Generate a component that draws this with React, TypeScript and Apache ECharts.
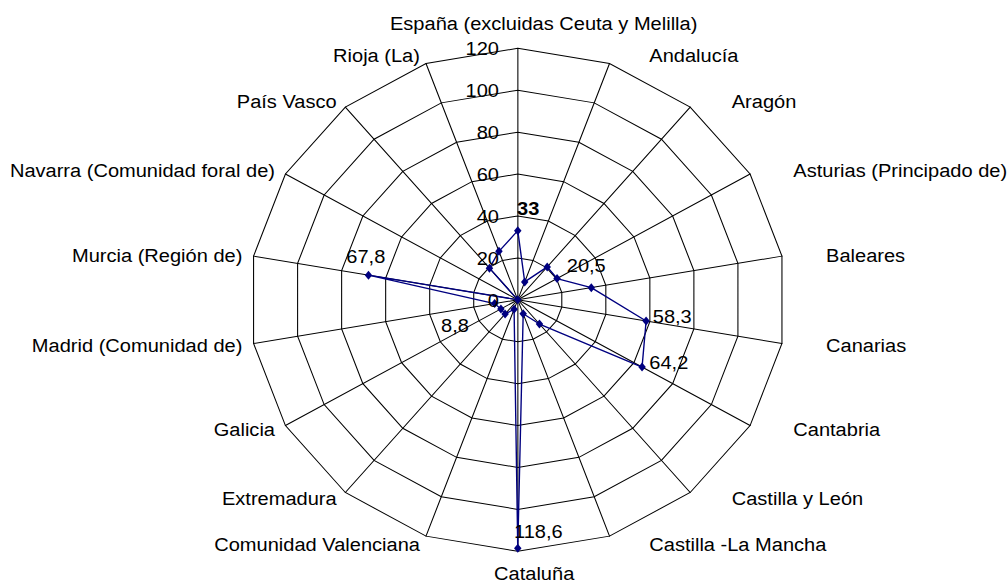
import React, { useEffect, useRef } from "react";
import * as echarts from "echarts";

// Regions, clockwise from the top spoke
const categories = [
  "España (excluidas Ceuta y Melilla)",
  "Andalucía",
  "Aragón",
  "Asturias (Principado de)",
  "Baleares",
  "Canarias",
  "Cantabria",
  "Castilla y León",
  "Castilla -La Mancha",
  "Cataluña",
  "Comunidad Valenciana",
  "Extremadura",
  "Galicia",
  "Madrid (Comunidad de)",
  "Murcia (Región de)",
  "Navarra (Comunidad foral de)",
  "País Vasco",
  "Rioja (La)",
];

const values = [
  33, 9.1, 20.5, 20.3, 33.4, 58.3, 64.2, 15.1, 7.1, 118.6, 4.8, 8.8, 8.7, 10.5,
  67.8, 0, 19.7, 24.6,
];

// Radial scale ticks
const radialTicks = [0, 20, 40, 60, 80, 100, 120];

// Regions whose value is printed next to the marker
const labelledCategories = [
  "España (excluidas Ceuta y Melilla)",
  "Aragón",
  "Canarias",
  "Cantabria",
  "Cataluña",
  "Extremadura",
  "Murcia (Región de)",
];

// ---- layout (not data) ----
const FONT = '"Liberation Sans", Arial, Helvetica, sans-serif';
const FONT_SIZE = 18.8;
const STRETCH = 1008 / 945;
const CX = 485.4;
const CY = 299.8;
const R = 251.5;

// where each value label sits relative to its marker
const valueLabelOffsets: Record<string, { offset: [number, number]; bold?: boolean }> = {
  "España (excluidas Ceuta y Melilla)": { offset: [9.8, -22.3], bold: true },
  "Aragón": { offset: [36.6, -1.2] },
  "Canarias": { offset: [24.5, -4.3] },
  "Cantabria": { offset: [25.1, -4.4] },
  "Cataluña": { offset: [19.3, -17.4] },
  "Extremadura": { offset: [-47, 11.6] },
  "Murcia (Región de)": { offset: [-2.5, -18.4] },
};

// anchor of each category name around the web
const nameAnchors: { x: number; y: number; align: "left" | "right" | "center" }[] = [
  { x: 365.6, y: 23.5, align: "left" },
  { x: 608.7, y: 55, align: "left" },
  { x: 686.0, y: 101.7, align: "left" },
  { x: 743.7, y: 170.5, align: "left" },
  { x: 774.4, y: 254.8, align: "left" },
  { x: 774.4, y: 345, align: "left" },
  { x: 743.7, y: 429.3, align: "left" },
  { x: 686.0, y: 498.3, align: "left" },
  { x: 608.7, y: 544.6, align: "left" },
  { x: 500.8, y: 573.5, align: "center" },
  { x: 393.7, y: 544.6, align: "right" },
  { x: 315.6, y: 498.3, align: "right" },
  { x: 257.8, y: 429.3, align: "right" },
  { x: 227.2, y: 345, align: "right" },
  { x: 227.2, y: 255, align: "right" },
  { x: 257.8, y: 170.5, align: "right" },
  { x: 315.6, y: 101.7, align: "right" },
  { x: 393.7, y: 55, align: "right" },
];

const fmt = (v: number) => String(v).replace(".", ",");

function buildOption() {
  const n = categories.length;
  const step = 360 / n;
  const tickMin = radialTicks[0];
  const tickMax = radialTicks[radialTicks.length - 1];
  const tickStep = radialTicks[1] - radialTicks[0];

  // radar indicators run counter-clockwise, so list them in reverse
  const indicators = [categories[0], ...categories.slice(1).reverse()].map((name) => ({
    name,
    min: tickMin,
    max: tickMax,
  }));

  const points: any[] = categories.map((cat, i) => {
    const item: any = { value: [values[i], i * step] };
    if (labelledCategories.includes(cat)) {
      const cfg = valueLabelOffsets[cat];
      item.label = {
        show: true,
        position: "inside",
        offset: cfg.offset,
        color: "#000",
        fontFamily: FONT,
        fontSize: FONT_SIZE,
        fontWeight: cfg.bold ? "bold" : "normal",
        formatter: () => fmt(values[i]),
      };
    }
    return item;
  });
  // close the outline back at the first region
  points.push({ value: [values[0], 360], symbolSize: 0 });

  const names = categories.map((cat, i) => ({
    type: "text",
    x: nameAnchors[i].x,
    y: nameAnchors[i].y,
    silent: true,
    style: {
      text: cat,
      fill: "#000",
      font: `${FONT_SIZE}px ${FONT}`,
      fontSize: FONT_SIZE,
      fontFamily: FONT,
      align: nameAnchors[i].align,
      verticalAlign: "middle",
      textAlign: nameAnchors[i].align,
      textVerticalAlign: "middle",
    },
  }));

  return {
    animation: false,
    backgroundColor: "#fff",
    radar: {
      center: [CX, CY],
      radius: R,
      startAngle: 90,
      shape: "polygon",
      splitNumber: (tickMax - tickMin) / tickStep,
      indicator: indicators,
      axisName: { show: false },
      splitArea: { show: false },
      splitLine: { lineStyle: { color: "#000", width: 1 } },
      axisLine: { lineStyle: { color: "#000", width: 1 } },
      axisTick: { show: false },
      axisLabel: { show: false },
    },
    polar: { center: [CX, CY], radius: R },
    angleAxis: {
      type: "value",
      min: 0,
      max: 360,
      startAngle: 90,
      clockwise: true,
      show: false,
    },
    radiusAxis: {
      type: "value",
      min: tickMin,
      max: tickMax,
      interval: tickStep,
      axisLine: { show: false },
      axisTick: { show: false },
      splitLine: { show: false },
      axisLabel: {
        show: true,
        margin: 17.6,
        color: "#000",
        fontFamily: FONT,
        fontSize: FONT_SIZE,
      },
      z: 5,
    },
    graphic: { elements: names },
    series: [
      {
        type: "line",
        coordinateSystem: "polar",
        data: points,
        symbol: "diamond",
        symbolSize: [7, 9],
        showSymbol: true,
        itemStyle: { color: "#000080" },
        lineStyle: { color: "#000080", width: 1.3 },
        label: { show: false },
        emphasis: { disabled: true },
        z: 3,
      },
    ],
  };
}

export default function App() {
  const ref = useRef<HTMLDivElement>(null);

  useEffect(() => {
    if (!ref.current) return;
    const chart = echarts.init(ref.current, null, { renderer: "svg" });
    chart.setOption(buildOption() as any);
    return () => chart.dispose();
  }, []);

  return (
    <div
      style={{
        position: "fixed",
        left: 0,
        top: 0,
        width: 1008,
        height: 585,
        overflow: "hidden",
        background: "#fff",
      }}
    >
      <div
        ref={ref}
        style={{
          width: 945,
          height: 585,
          transform: `scaleX(${STRETCH})`,
          transformOrigin: "0 0",
        }}
      />
    </div>
  );
}
